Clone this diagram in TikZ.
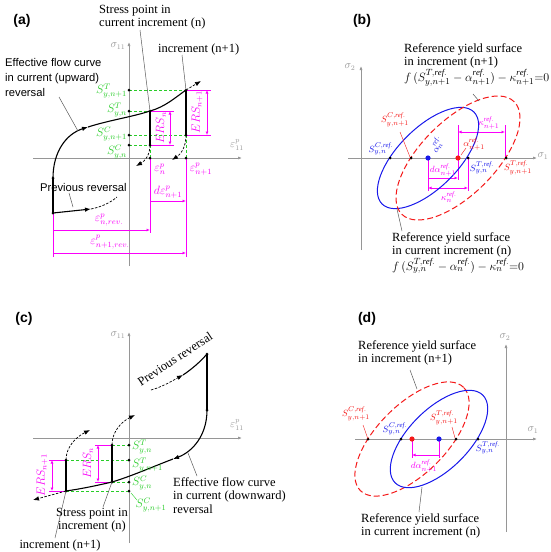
\documentclass[tikz,border=0pt]{standalone}
\usepackage{fontspec}
\setmainfont{Liberation Serif}
\newfontfamily\sansf{Liberation Sans}
\usetikzlibrary{arrows.meta}
\definecolor{sgreen}{RGB}{40,205,40}
\definecolor{smag}{RGB}{250,0,250}
\definecolor{sblue}{RGB}{25,25,235}
\definecolor{sred}{RGB}{245,25,25}
\definecolor{axgray}{RGB}{150,150,150}
\definecolor{ldgray}{RGB}{90,90,90}
\newcommand{\rfx}{\mathit{ref.}}
\begin{document}
\begin{tikzpicture}[x=1pt,y=1pt,
  axis/.style={draw=axgray, line width=0.7pt, -{Latex[length=4pt,width=3pt]}},
  crv/.style={line width=1.1pt, black},
  tipa/.style={-{Latex[length=6pt,width=4.5pt]}},
  dsh/.style={line width=0.7pt, dash pattern=on 2.5pt off 1.5pt},
  gdash/.style={draw=sgreen, line width=0.7pt, dash pattern=on 3pt off 2pt},
  mline/.style={draw=smag, line width=0.7pt},
  mdim/.style={draw=smag, line width=0.7pt, {Latex[length=3.5pt,width=3pt]}-{Latex[length=3.5pt,width=3pt]}},
  mdimr/.style={draw=smag, line width=0.7pt, -{Latex[length=3.5pt,width=3pt]}},
  lead/.style={draw=ldgray, line width=0.5pt},
  glab/.style={text=sgreen, inner sep=0pt, font=\fontsize{11.5}{12}\selectfont},
  mlab/.style={text=smag, inner sep=0pt, font=\fontsize{11.5}{12}\selectfont},
  axlab/.style={text=axgray, inner sep=0pt, font=\fontsize{10.5}{11}\selectfont},
  txt/.style={inner sep=0pt, align=left, font=\fontsize{12.5}{13.5}\selectfont},
  stxt/.style={inner sep=0pt, align=left, font=\sansf\fontsize{11.2}{15}\selectfont},
  plab/.style={inner sep=0pt, font=\sansf\bfseries\fontsize{14}{16}\selectfont},
  elab/.style={inner sep=0pt, font=\fontsize{9.5}{10}\selectfont},
  bell/.style={draw=sblue, line width=1pt},
  rell/.style={draw=sred, line width=1pt, dash pattern=on 6pt off 3pt},
]
\useasboundingbox (0,0) rectangle (550,-552);
\fill[white] (0,0) rectangle (550,-552);

% ================= (a) =================
\node[plab] (la) at (22,-21) {(a)};
\draw[axis] (129,-266) -- (129,-42);
\draw[axis] (33,-158) -- (242,-158);
\node[axlab] (aax1) at (118,-46) {$\sigma_{11}$};
\node[axlab] (aax2) at (237,-145) {$\varepsilon^{p}_{11}$};

\coordinate (aP0) at (53,-213);
\coordinate (aP1) at (53,-178);
\coordinate (aN) at (150,-111);
\coordinate (aN1) at (186,-90);
\coordinate (aNc) at (150,-145);
\coordinate (aN1c) at (186,-135);
\coordinate (aEn) at (150,-158);
\coordinate (aEn1) at (186,-158);
\coordinate (aST1) at (129,-90);
\coordinate (aST) at (129,-111);
\coordinate (aSC1) at (129,-135);
\coordinate (aSC) at (129,-145);

\draw[gdash] (aST1) -- (aN1);
\draw[gdash] (aST) -- (aN);
\draw[gdash] (aSC1) -- (aN1c);
\draw[gdash] (aSC) -- (aNc);
\draw[gdash] (aNc) -- (aEn);
\draw[gdash] (aN1c) -- (aEn1);

\draw[mline] (aN1) -- (211,-90);
\draw[mline] (aN1c) -- (211,-135);
\draw[mline] (aN) -- (174,-111);
\draw[mline] (aNc) -- (174,-145);
\draw[mdim] (207,-90) -- (207,-135);
\draw[mdim] (170,-111) -- (170,-145);
\draw[mline] (aP0) -- (53,-257);
\draw[mline] (aEn) -- (150,-233);
\draw[mline] (aEn1) -- (186,-257);
\draw[mdimr] (150,-201) -- (186,-201);
\draw[mdimr] (53,-230) -- (150,-230);
\draw[mdimr] (53,-253) -- (186,-253);

\draw[crv] (aP0) -- (aP1);
\draw[crv,tipa] (aP1) .. controls (53,-152) and (66,-134) .. (88,-127);
\draw[crv] (88,-127) .. controls (110,-120) and (132,-117) .. (aN) .. controls (165,-107) and (176,-97) .. (aN1);
\draw[dsh,tipa] (aN1) -- (201,-81);
\draw[crv] (aN) -- (aNc);
\draw[crv] (aN1) -- (aN1c);
\draw[dsh,tipa] (aNc) .. controls (150,-155) and (145,-161) .. (136,-166);
\draw[dsh,tipa] (aN1c) .. controls (186,-147) and (181,-154) .. (172,-160);
\draw[crv,tipa] (aP0) -- (91,-209);
\draw[dsh] (91,-209) .. controls (101,-207) and (110,-203) .. (117,-197);

\foreach \p in {aP0,aP1,aN,aN1,aNc,aN1c,aEn,aEn1,aST1,aST,aSC1,aSC}
  \fill (\p) circle (1.5);

\node[txt, anchor=north west] (ta1) at (99,-5) {Stress point in\\current increment (n)};
\node[txt, anchor=west] (ta2) at (158,-49) {increment (n+1)};
\node[stxt, anchor=north west] (ta3) at (5,-58) {Effective flow curve\\in current (upward)\\reversal};
\node[stxt, anchor=west] (ta4) at (40,-187) {Previous reversal};
\draw[lead] (140,-30) -- (aN);
\draw[lead] (182,-55) -- (aN1);
\draw[lead] (59,-97) -- (78,-131);
\draw[lead] (69,-193) -- (73,-207);

\node[glab, anchor=east] (ga1) at (127,-91) {$S^{T}_{y,n+1}$};
\node[glab, anchor=east] (ga2) at (127,-110) {$S^{T}_{y,n}$};
\node[glab, anchor=east] (ga3) at (127,-134) {$S^{C}_{y,n+1}$};
\node[glab, anchor=east] (ga4) at (127,-152) {$S^{C}_{y,n}$};
\node[mlab, rotate=90] (ma1) at (161,-128) {$ERS_{n}$};
\node[mlab, rotate=90] (ma2) at (197,-112) {$ERS_{n+1}$};
\node[mlab] (ma3) at (160,-169) {$\varepsilon^{p}_{n}$};
\node[mlab] (ma4) at (201,-169) {$\varepsilon^{p}_{n+1}$};
\node[mlab] (ma5) at (168,-192) {$d\varepsilon^{p}_{n+1}$};
\node[mlab] (ma6) at (109,-220) {$\varepsilon^{p}_{n,rev.}$};
\node[mlab] (ma7) at (110,-242) {$\varepsilon^{p}_{n+1,rev.}$};

% ================= (b) =================
\node[plab] (lb) at (362,-21) {(b)};
\draw[axis] (361,-250) -- (361,-66);
\draw[axis] (348,-158) -- (537,-158);
\node[axlab] (bax1) at (350,-67) {$\sigma_{2}$};
\node[axlab] (bax2) at (543,-156) {$\sigma_{1}$};

\draw[mline] (458,-125) -- (458,-180);
\draw[mline] (505,-125) -- (505,-158);
\draw[mdim] (458,-132) -- (505,-132);
\draw[mline] (428,-158) -- (428,-191);
\draw[mline] (468,-158) -- (468,-191);
\draw[mdimr] (428,-178) -- (458,-178);
\draw[mdim] (428,-188) -- (468,-188);

\draw[bell, rotate around={45:(428,-158)}] (428,-158) ellipse [x radius=65, y radius=30];
\draw[rell, rotate around={45:(458,-158)}] (458,-158) ellipse [x radius=79.5, y radius=37];

\foreach \x in {390,411,468,506} \fill (\x,-158) circle (1.5);
\fill[sblue] (428,-158) circle (2.6);
\fill[sred] (458,-158) circle (2.6);

\node[txt, anchor=north west] (tb1) at (404,-43) {Reference yield surface\\in increment (n+1)\\$f\,(S^{T,\rfx}_{y,n+1}-\alpha^{\rfx}_{n+1})-\kappa^{\rfx}_{n+1}{=}0$};
\node[txt, anchor=north west] (tb2) at (392,-232) {Reference yield surface\\in current increment (n)\\$f\,(S^{T,\rfx}_{y,n}-\alpha^{\rfx}_{n})-\kappa^{\rfx}_{n}{=}0$};
\draw[lead] (473,-94) -- (479,-101);
\draw[lead] (397,-209) -- (402,-231);

\node[elab, text=sred] (eb1) at (395,-120) {$S^{C,\rfx}_{y,n+1}$};
\node[elab, text=sblue] (eb2) at (381,-149) {$S^{C,\rfx}_{y,n}$};
\node[elab, text=sblue, rotate=65] (eb3) at (437,-145) {$\alpha^{\rfx}_{n}$};
\node[elab, text=sred] (eb4) at (474,-144) {$\alpha^{\rfx}_{n+1}$};
\node[elab, text=smag] (eb5) at (489,-123) {$\kappa^{\rfx}_{n+1}$};
\node[elab, text=sblue] (eb6) at (482,-168) {$S^{T,\rfx}_{y,n}$};
\node[elab, text=sred] (eb7) at (518,-168) {$S^{T,\rfx}_{y,n+1}$};
\node[elab, text=smag] (eb8) at (443,-170) {$d\alpha^{\rfx}_{n+1}$};
\node[elab, text=smag] (eb9) at (449,-197) {$\kappa^{\rfx}_{n}$};
\draw[draw=sred, line width=0.4pt] (400,-132) -- (410,-157);
\draw[draw=sred, line width=0.4pt] (461,-155) -- (466,-148);

% ================= (c) =================
\node[plab] (lc) at (24,-319) {(c)};
\draw[axis] (129,-543) -- (129,-332);
\draw[axis] (33,-438) -- (242,-438);
\node[axlab] (cax1) at (118,-335) {$\sigma_{11}$};
\node[axlab] (cax2) at (237,-425) {$\varepsilon^{p}_{11}$};

\coordinate (cR) at (207,-354);
\coordinate (cR1) at (207,-410);
\coordinate (cN) at (112,-482);
\coordinate (cN1) at (66,-491);
\coordinate (cNt) at (112,-445);
\coordinate (cN1t) at (66,-460);
\coordinate (cST) at (129,-445);
\coordinate (cST1) at (129,-460);
\coordinate (cSC) at (129,-482);
\coordinate (cSC1) at (129,-491);

\draw[gdash] (cNt) -- (cST);
\draw[gdash] (cN1t) -- (cST1);
\draw[gdash] (cN) -- (cSC);
\draw[gdash] (cN1) -- (cSC1);

\draw[mline] (95,-445) -- (cNt);
\draw[mline] (95,-482) -- (cN);
\draw[mdim] (98,-445) -- (98,-482);
\draw[mline] (49,-460) -- (cN1t);
\draw[mline] (49,-491) -- (cN1);
\draw[mdim] (52,-460) -- (52,-491);

\draw[crv] (cR) -- (cR1);
\draw[crv,tipa] (cR1) .. controls (207,-436) and (192,-452) .. (173,-459);
\draw[crv] (173,-459) .. controls (152,-467) and (132,-476) .. (cN) .. controls (95,-486) and (80,-489) .. (cN1);
\draw[dsh,tipa] (cN1) -- (33,-500);
\draw[crv] (cN) -- (cNt);
\draw[crv] (cN1) -- (cN1t);
\draw[dsh,tipa] (cNt) .. controls (112,-432) and (121,-422) .. (135,-415);
\draw[dsh,tipa] (cN1t) .. controls (66,-447) and (76,-437) .. (90,-430);
\draw[dsh,tipa] (151,-390) .. controls (162,-387) and (172,-381) .. (183,-375);
\draw[crv] (183,-375) .. controls (192,-369) and (200,-362) .. (cR);

\foreach \p in {cR,cR1,cN,cN1,cNt,cN1t,cST,cST1,cSC,cSC1}
  \fill (\p) circle (1.5);

\node[txt, rotate=33] (tc1) at (175,-359) {Previous reversal};
\node[txt, anchor=north west] (tc2) at (173,-477) {Effective flow curve\\in current (downward)\\reversal};
\node[txt, anchor=north, align=center] (tc3) at (92,-508) {Stress point in\\increment (n)};
\node[txt] (tc4) at (60,-545) {increment (n+1)};
\draw[lead] (188,-453) -- (197,-476);
\draw[lead] (103,-507) -- (cN);
\draw[lead] (55,-538) -- (cN1);

\node[glab, anchor=west] (gc1) at (132,-447) {$S^{T}_{y,n}$};
\node[glab, anchor=west] (gc2) at (132,-465) {$S^{T}_{y,n+1}$};
\node[glab, anchor=west] (gc3) at (132,-483) {$S^{C}_{y,n}$};
\node[glab] (gc4) at (151,-505) {$S^{C}_{y,n+1}$};
\draw[draw=sgreen, line width=0.4pt] (131,-493) -- (137,-500);
\node[mlab, rotate=90] (mc1) at (88,-463) {$ERS_{n}$};
\node[mlab, rotate=90] (mc2) at (42,-475) {$ERS_{n+1}$};

% ================= (d) =================
\node[plab] (ld) at (367,-319) {(d)};
\draw[axis] (506,-532) -- (506,-344);
\draw[axis] (355,-439) -- (537,-439);
\node[axlab] (dax1) at (505,-337) {$\sigma_{2}$};
\node[axlab] (dax2) at (533,-430) {$\sigma_{1}$};

\draw[mline] (412,-439) -- (412,-458);
\draw[mline] (439,-439) -- (439,-458);
\draw[mdimr] (439,-455) -- (412,-455);

\draw[rell, rotate around={45:(412,-439)}] (412,-439) ellipse [x radius=73, y radius=34.5];
\draw[bell, rotate around={45:(439,-439)}] (439,-439) ellipse [x radius=62, y radius=30];

\foreach \x in {368,401,456,478} \fill (\x,-439) circle (1.5);
\fill[sred] (412,-439) circle (2.6);
\fill[sblue] (439,-439) circle (2.6);

\node[txt, anchor=north west] (td1) at (358,-340) {Reference yield surface\\in increment (n+1)};
\node[txt, anchor=north west] (td2) at (361,-513) {Reference yield surface\\in current increment (n)};
\draw[lead] (410,-370) -- (417,-389);
\draw[lead] (422,-487) -- (419,-512);

\node[elab, text=sred] (ed1) at (356,-414) {$S^{C,\rfx}_{y,n+1}$};
\node[elab, text=sblue] (ed2) at (395,-429) {$S^{C,\rfx}_{y,n}$};
\node[elab, text=sred] (ed3) at (444,-418) {$S^{T,\rfx}_{y,n+1}$};
\node[elab, text=sblue] (ed4) at (488,-448) {$S^{T,\rfx}_{y,n}$};
\node[elab, text=smag] (ed5) at (424,-466) {$d\alpha^{\rfx}_{n+1}$};
\draw[draw=sred, line width=0.4pt] (363,-425) -- (368,-439);
\draw[draw=sred, line width=0.4pt] (452,-427) -- (455,-438);
\end{tikzpicture}
\end{document}
